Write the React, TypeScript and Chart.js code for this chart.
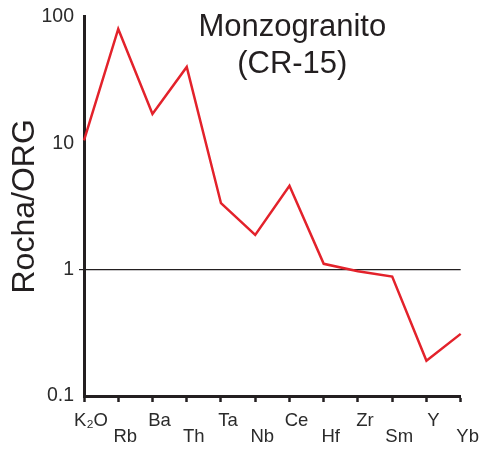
import React, { useEffect, useRef } from "react";
import { Chart, registerables } from "chart.js";

Chart.register(...registerables);

const categories = ["K₂O", "Rb", "Ba", "Th", "Ta", "Nb", "Ce", "Hf", "Zr", "Sm", "Y", "Yb"];
const values = [10.5, 80, 17, 40, 3.35, 1.88, 4.6, 1.11, 0.97, 0.88, 0.19, 0.31];
const yTicks = [0.1, 1, 10, 100];
const titleLines = ["Monzogranito", "(CR-15)"];
const yTitle = "Rocha/ORG";

const FONT = '"Liberation Sans", Arial, Helvetica, sans-serif';
const INK = "#231f20";

const titlePlugin = {
  id: "innerTitle",
  afterDraw(chart: any) {
    const { ctx, chartArea } = chart;
    const w = chartArea.right - chartArea.left;
    const cx = chartArea.left + 0.553 * w;
    ctx.save();
    ctx.font = `31px ${FONT}`;
    ctx.fillStyle = INK;
    ctx.textAlign = "center";
    ctx.textBaseline = "alphabetic";
    ctx.fillText(titleLines[0], cx, chartArea.top + 19);
    ctx.fillText(titleLines[1], cx, chartArea.top + 56);
    ctx.restore();
  },
};

export default function App() {
  const ref = useRef<HTMLCanvasElement | null>(null);

  useEffect(() => {
    if (!ref.current) return;
    const chart = new Chart(ref.current, {
      type: "line",
      data: {
        labels: categories,
        datasets: [
          {
            data: values,
            borderColor: "#e3222b",
            borderWidth: 2.5,
            pointRadius: 0,
            tension: 0,
            fill: false,
          },
        ],
      },
      options: {
        responsive: false,
        animation: false,
        layout: { padding: { top: 14, right: 20, left: 0, bottom: 0 } },
        plugins: {
          legend: { display: false },
          tooltip: { enabled: false },
          title: { display: false },
        },
        scales: {
          x: {
            type: "category",
            offset: false,
            grid: {
              display: true,
              drawOnChartArea: false,
              drawTicks: true,
              tickLength: 6,
              color: INK,
              tickColor: INK,
              tickWidth: 2.5,
            },
            border: { display: true, color: INK, width: 3 },
            ticks: {
              autoSkip: false,
              maxRotation: 0,
              minRotation: 0,
              labelOffset: 7,
              padding: 11,
              color: "#2b2b2b",
              font: { family: FONT, size: 18.5, lineHeight: 0.87 },
              callback: (_v: any, i: number) =>
                i % 2 === 0 ? [categories[i], ""] : ["", categories[i]],
            },
            afterFit: (s: any) => {
              s.height = 53;
            },
          },
          y: {
            type: "logarithmic",
            min: 0.1,
            max: 100,
            grid: {
              display: true,
              drawOnChartArea: true,
              drawTicks: true,
              tickLength: 5,
              lineWidth: 1.2,
              color: (c: any) =>
                c.tick && c.tick.value === 1 ? INK : "rgba(0,0,0,0)",
            },
            border: { display: true, color: INK, width: 3 },
            afterBuildTicks: (s: any) => {
              s.ticks = yTicks.map((v) => ({ value: v }));
            },
            ticks: {
              padding: 5,
              color: "#2b2b2b",
              font: { family: FONT, size: 19.5 },
              callback: (v: any) => String(v),
            },
            title: {
              display: true,
              text: yTitle,
              color: INK,
              font: { family: FONT, size: 32, lineHeight: 1 },
              padding: { top: 9, bottom: 0 },
            },
            afterFit: (s: any) => {
              s.width = 84;
            },
          },
        },
      },
      plugins: [titlePlugin],
    });
    return () => chart.destroy();
  }, []);

  return (
    <div style={{ position: "fixed", left: 0, top: 0, width: 483, height: 449, background: "#fff" }}>
      <canvas ref={ref} width={483} height={449} />
    </div>
  );
}
